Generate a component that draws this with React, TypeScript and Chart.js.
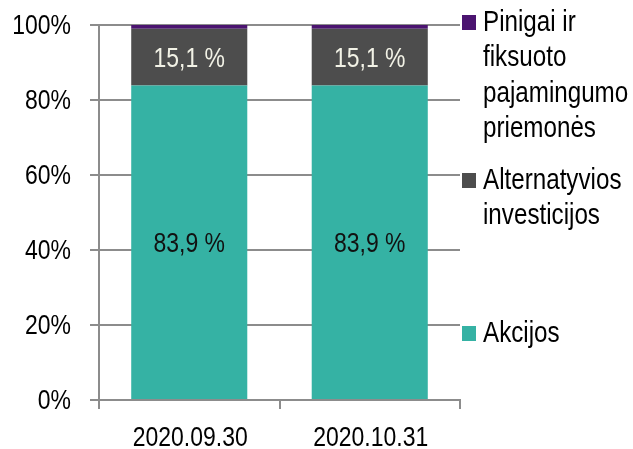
import React, { useEffect, useRef } from "react";
import { Chart, registerables } from "chart.js";

Chart.register(...registerables);

const categories = ["2020.09.30", "2020.10.31"];
const akcijos = [83.9, 83.9];
const alternatyvios = [15.1, 15.1];
const pinigai = [1.0, 1.0];
const yTicks = [0, 20, 40, 60, 80, 100];
const legendItems = [
  { lines: ["Pinigai ir", "fiksuoto", "pajamingumo", "priemonės"], color: "#4B1470" },
  { lines: ["Alternatyvios", "investicijos"], color: "#4D4D4D" },
  { lines: ["Akcijos"], color: "#35B2A4" },
];

const FONT = "'Liberation Sans', Arial, sans-serif";
const SIZE = 28;
const LEGEND_SIZE = 29.5;
const SQUEEZE = 0.82;

function narrowText(ctx: CanvasRenderingContext2D, text: string, x: number, y: number, align: CanvasTextAlign, color: string, size: number = SIZE) {
  ctx.save();
  ctx.font = `${size}px ${FONT}`;
  ctx.textAlign = align;
  ctx.textBaseline = "middle";
  ctx.fillStyle = color;
  ctx.translate(x, y);
  ctx.scale(SQUEEZE, 1);
  ctx.fillText(text, 0, 0);
  ctx.restore();
}

export default function App() {
  const ref = useRef<HTMLCanvasElement>(null);
  useEffect(() => {
    document.body.style.margin = "0";
    const canvas = ref.current!;
    const textPlugin = {
      id: "texts",
      afterDraw(chart: any) {
        const ctx = chart.ctx as CanvasRenderingContext2D;
        const ys = chart.scales.y;
        const xs = chart.scales.x;
        yTicks.forEach((v) => {
          narrowText(ctx, v + "%", 71, ys.getPixelForValue(v) + 1, "right", "#000000");
        });
        categories.forEach((c, i) => {
          narrowText(ctx, c, xs.getPixelForValue(i) + 1, 438, "center", "#000000");
        });
        [0, 1].forEach((di) => {
          const meta = chart.getDatasetMeta(di);
          const ds = chart.data.datasets[di];
          meta.data.forEach((el: any, i: number) => {
            const v = ds.data[i] as number;
            const y = (el.y + el.base) / 2 + 2;
            narrowText(ctx, v.toFixed(1).replace(".", ",") + " %", el.x, y, "center", di === 0 ? "#111111" : "#F2F2E6");
          });
        });
        const starts = [23, 181, 334];
        legendItems.forEach((it, k) => {
          const y0 = starts[k];
          ctx.fillStyle = it.color;
          ctx.fillRect(462, y0 - 8, 14, 15);
          it.lines.forEach((ln, j) => {
            narrowText(ctx, ln, 483, y0 + j * 35.3, "left", "#000000", LEGEND_SIZE);
          });
        });
      },
    };
    const chart = new Chart(canvas, {
      type: "bar",
      data: {
        labels: categories,
        datasets: [
          { label: "Akcijos", data: akcijos, backgroundColor: "#35B2A4" },
          { label: "Alternatyvios investicijos", data: alternatyvios, backgroundColor: "#4D4D4D" },
          { label: "Pinigai ir fiksuoto pajamingumo priemonės", data: pinigai, backgroundColor: "#4B1470" },
        ],
      },
      options: {
        responsive: false,
        animation: false,
        layout: { padding: { left: 0, right: 173, top: 25, bottom: 0 } },
        plugins: { legend: { display: false }, tooltip: { enabled: false } },
        datasets: { bar: { barPercentage: 0.643, categoryPercentage: 1 } },
        scales: {
          x: {
            stacked: true,
            offset: true,
            grid: { display: true, drawOnChartArea: false, offset: true, tickLength: 9, color: "#8C8C8C", lineWidth: 2 },
            border: { display: true, color: "#8C8C8C", width: 2 },
            ticks: { display: false },
            afterFit: (s: any) => { s.height = 49; },
          },
          y: {
            stacked: true,
            min: 0,
            max: 100,
            afterBuildTicks: (s: any) => { s.ticks = yTicks.map((v) => ({ value: v })); },
            grid: { color: "#8C8C8C", lineWidth: 2, tickLength: 9 },
            border: { display: true, color: "#8C8C8C", width: 2 },
            ticks: { display: false },
            afterFit: (s: any) => { s.width = 99; },
          },
        },
      },
      plugins: [textPlugin],
    });
    return () => chart.destroy();
  }, []);
  return <canvas ref={ref} width={633} height={449} />;
}
